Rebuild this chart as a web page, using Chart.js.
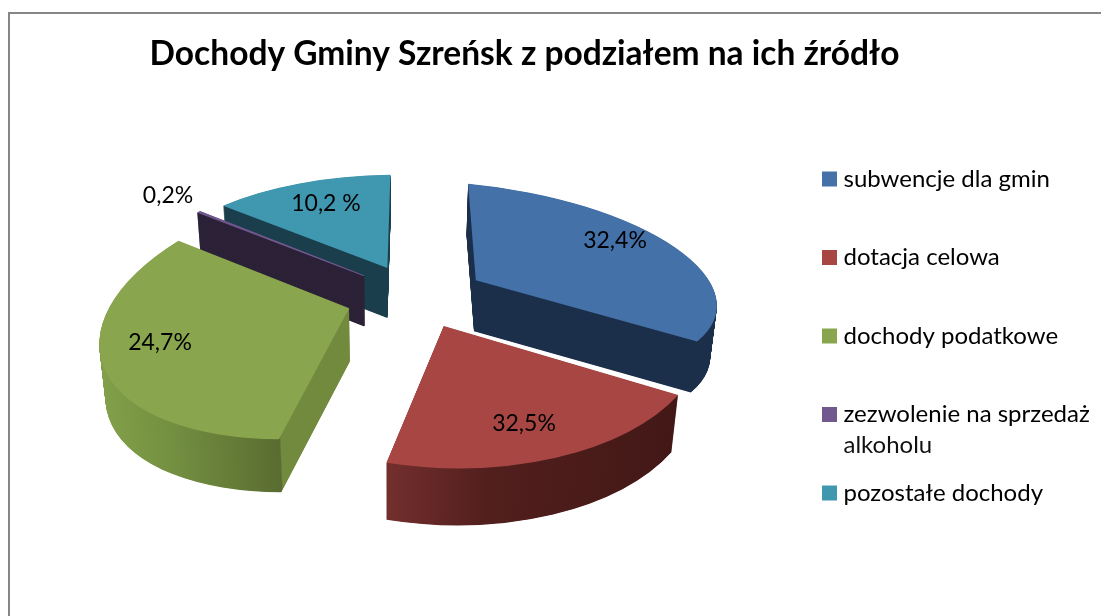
<!DOCTYPE html>
<html>
<head>
<meta charset="utf-8">
<style>
  html, body { margin: 0; background: #fff; }
  canvas { display: block; }
</style>
<script src="https://cdn.jsdelivr.net/npm/chart.js@4"></script>
</head>
<body>
<canvas id="income_chart" width="1101" height="616"></canvas>
<script>
var titleText = 'Dochody Gminy Szreńsk z podziałem na ich źródło';
var categories = ['subwencje dla gmin', 'dotacja celowa', 'dochody podatkowe', 'zezwolenie na sprzedaż', 'pozostałe dochody'];
var wrappedLine = 'alkoholu'; // second legend line of the 4th category

// wedge sizes as drawn in the picture: they do not agree with the printed labels
var sliceShares = [32, 21.4, 33.5, 0.2, 12.9];
var percentLabels = ['32,4%', '32,5%', '24,7%', '0,2%', '10,2 %'];

var topColors = ['#4471a7', '#a84644', '#89a54e', '#71588f', '#4097b0'];
var explode = [72, 65, 69, 70, 70];
var depths = [51, 57, 53, 50, 50];
var drawOrder = [4, 3, 0, 2, 1];

// 3d look: pie centre, squash of the explode, and how each wedge is foreshortened
var view = {x: 415, y: 298.5, k: 0.473, vanishX: 388, shrink: 0.0004};
var wedgeAxes = [
  [241, 22.4, 7.7, 96.4],
  [260.1, 9.5, -2.2, 141.8],
  [249.3, -26.9, -17.8, 128.2],
  [229, -2, -3, 95.4],
  [229.7, -2.7, -3, 93.3]
];
var walls = [
  {from: 470, to: 720, stops: [[0, '#1b2f4b'], [1, '#1b2f4b']]},
  {from: 386, to: 678, stops: [[0, '#732f2e'], [0.35, '#521f1d'], [1, '#421816']]},
  {from: 100, to: 351, stops: [[0, '#82a04a'], [0.3, '#728e40'], [0.715, '#5a6c31'], [0.72, '#728a3e'], [1, '#728a3e']]},
  {from: 190, to: 370, stroke: 2, color: '#2d2338', stops: [[0, '#2d2338'], [1, '#2d2338']]},
  {from: 220, to: 395, stops: [[0, '#1a3e4b'], [1, '#1a3e4b']]}
];
var labelSpots = [[615, 241], [524, 424], [160, 343], [168, 196], [326, 204]];
var fontName = 'Lato, Carlito, "Open Sans", sans-serif';

function wedgeMatrix(el, i) {
  var mid = (el.startAngle + el.endAngle) / 2;
  var r = el.outerRadius;
  var ax = wedgeAxes[i];
  var a = ax[0] / r, b = ax[1] / r, c = ax[2] / r, d = ax[3] / r;
  var tx = view.x + explode[i] * Math.cos(mid);
  var ty = view.y + view.k * explode[i] * Math.sin(mid);
  return [a, b, c, d, tx - (a * el.x + c * el.y), ty - (b * el.x + d * el.y)];
}

// gradient that runs along the screen x axis whatever the wedge matrix is
function wallGradient(ctx, m, wall) {
  var n = m[0] * m[0] + m[2] * m[2];
  var s0 = (wall.from - m[4]) / n;
  var s1 = (wall.to - m[4]) / n;
  var grad = ctx.createLinearGradient(m[0] * s0, m[2] * s0, m[0] * s1, m[2] * s1);
  wall.stops.forEach(function(s) { grad.addColorStop(s[0], s[1]); });
  return grad;
}

var pie3d = {
  id: 'pie3d',
  beforeDraw: function(chart) {
    var ctx = chart.ctx;
    ctx.save();
    ctx.strokeStyle = '#868686';
    ctx.lineWidth = 2;
    ctx.beginPath();
    ctx.moveTo(9, chart.height);
    ctx.lineTo(9, 13);
    ctx.lineTo(chart.width, 13);
    ctx.stroke();
    ctx.restore();
  },
  afterLayout: function(chart) {
    chart.titleBlock.left -= 26;
    chart.titleBlock.right -= 26;
    var legend = chart.legend;
    legend.left = 827.5 - legend.options.labels.padding;
    legend.right = chart.width;
    legend.top = 112.5;
    legend.bottom = chart.height;
  },
  beforeDatasetDraw: function(chart) {
    var ctx = chart.ctx;
    var arcs = chart.getDatasetMeta(0).data;
    drawOrder.forEach(function(i) {
      var el = arcs[i];
      var m = wedgeMatrix(el, i);

      var opts = el.options;
      var wallOpts = Object.create(opts);
      wallOpts.backgroundColor = wallGradient(ctx, m, walls[i]);
      wallOpts.borderWidth = walls[i].stroke || 0;
      wallOpts.borderColor = walls[i].color || 'transparent';
      el.options = wallOpts;
      for (var k = depths[i]; k > 0; k -= 0.5) {
        ctx.save();
        ctx.translate(view.vanishX, k);
        ctx.scale(1 - view.shrink * k, 1);
        ctx.translate(-view.vanishX, 0);
        ctx.transform(m[0], m[1], m[2], m[3], m[4], m[5]);
        el.draw(ctx);
        ctx.restore();
      }
      el.options = opts;

      ctx.save();
      ctx.transform(m[0], m[1], m[2], m[3], m[4], m[5]);
      el.draw(ctx);
      ctx.restore();
    });
    return false;
  },
  afterDraw: function(chart) {
    var ctx = chart.ctx;
    ctx.save();
    ctx.fillStyle = '#000';
    ctx.font = '23px ' + fontName;
    ctx.textAlign = 'center';
    ctx.textBaseline = 'middle';
    percentLabels.forEach(function(t, i) {
      ctx.fillText(t, labelSpots[i][0], labelSpots[i][1]);
    });
    var box = chart.legend.legendHitBoxes[3];
    ctx.font = '24px ' + fontName;
    ctx.fillStyle = '#111';
    ctx.textAlign = 'left';
    ctx.fillText(wrappedLine, 843.5, box.top + 12 + 31);
    ctx.restore();
  }
};

new Chart(document.getElementById('income_chart'), {
  type: 'pie',
  data: {
    labels: categories,
    datasets: [{
      data: sliceShares,
      backgroundColor: topColors,
      borderColor: topColors,
      borderWidth: [0, 0, 0, 1.5, 0]
    }]
  },
  options: {
    responsive: false,
    animation: false,
    events: [],
    radius: 200,
    plugins: {
      title: {
        display: true,
        text: titleText,
        color: '#000',
        font: {family: fontName, size: 33.5, weight: 'bold'},
        padding: {top: 34, bottom: 10}
      },
      legend: {
        position: 'right',
        align: 'start',
        labels: {
          color: '#111',
          font: {family: fontName, size: 24},
          boxWidth: 4,
          boxHeight: 4,
          padding: 54.5,
          generateLabels: function(chart) {
            return chart.data.labels.map(function(t, i) {
              return {text: t, fillStyle: topColors[i], strokeStyle: topColors[i], lineWidth: 11, index: i, hidden: false};
            });
          }
        }
      },
      tooltip: {enabled: false}
    }
  },
  plugins: [pie3d]
});
</script>
</body>
</html>
